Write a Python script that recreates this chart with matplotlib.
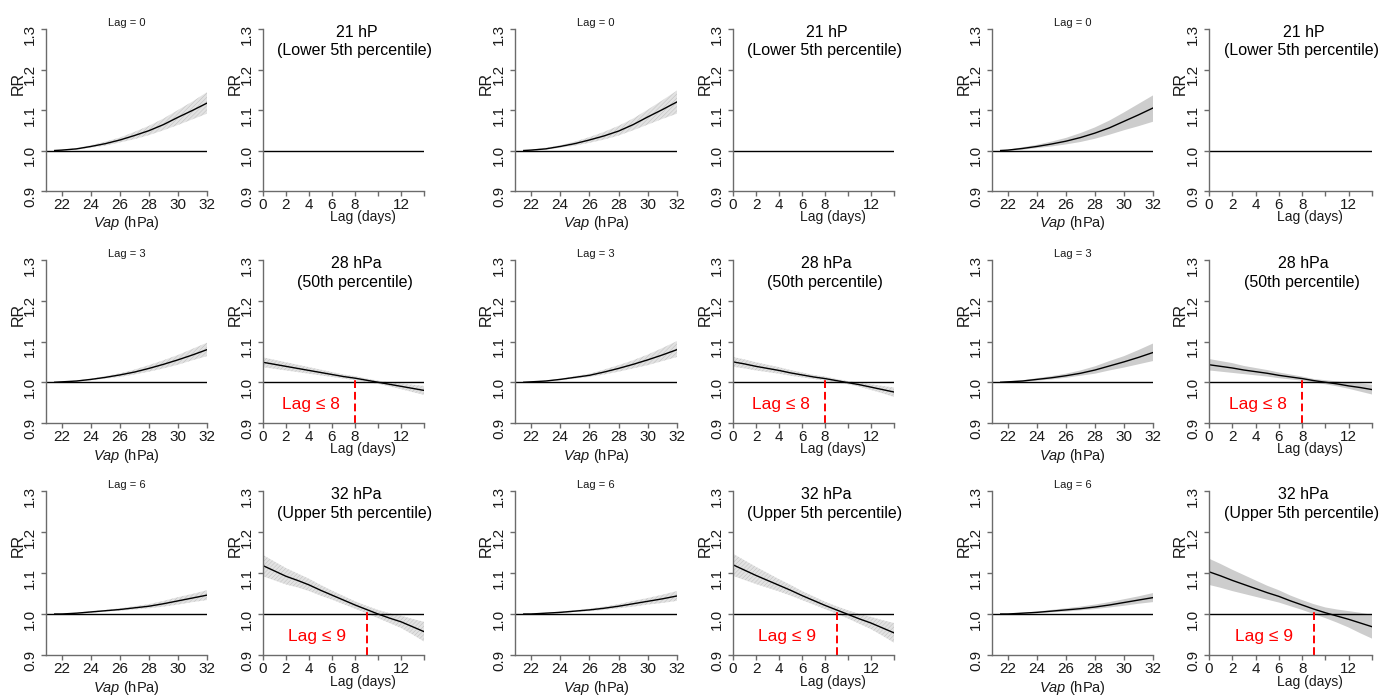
import numpy as np
import matplotlib
matplotlib.use('Agg')
import matplotlib.pyplot as plt

plt.rcParams['font.family'] = ['Liberation Sans', 'DejaVu Sans']
plt.rcParams['mathtext.fontset'] = 'custom'
plt.rcParams['mathtext.rm'] = 'Liberation Sans'
plt.rcParams['mathtext.it'] = 'Liberation Sans:italic'
plt.rcParams['hatch.linewidth'] = 0.3

# ---- data ----
vap = [21.5, 22, 23, 24, 25, 26, 27, 28, 29, 30, 31, 32]
lags = list(range(15))

lag_titles = ['Lag = 0', 'Lag = 3', 'Lag = 6']
pct_values = ['21 hP', '28 hPa', '32 hPa']
pct_names = ['(Lower 5th percentile)', '(50th percentile)', '(Upper 5th percentile)']
cutoffs = [None, 8, 9]
cutoff_labels = [None, 'Lag ≤ 8', 'Lag ≤ 9']

# group 1: exposure-response at lag 0 / 3 / 6
g1_vap_rr = [[1.000, 1.001, 1.004, 1.010, 1.017, 1.026, 1.037, 1.049, 1.064, 1.082, 1.099, 1.117],
             [1.000, 1.001, 1.003, 1.007, 1.012, 1.018, 1.025, 1.034, 1.044, 1.055, 1.067, 1.080],
             [1.000, 1.000, 1.002, 1.005, 1.008, 1.011, 1.015, 1.019, 1.025, 1.032, 1.039, 1.046]]
g1_vap_lo = [[1.000, 1.000, 1.002, 1.007, 1.012, 1.020, 1.028, 1.038, 1.050, 1.063, 1.077, 1.091],
             [1.000, 1.000, 1.002, 1.005, 1.009, 1.013, 1.019, 1.026, 1.034, 1.043, 1.054, 1.064],
             [1.000, 1.000, 1.001, 1.003, 1.006, 1.008, 1.011, 1.014, 1.018, 1.023, 1.029, 1.034]]
g1_vap_hi = [[1.000, 1.002, 1.006, 1.013, 1.022, 1.032, 1.046, 1.061, 1.079, 1.100, 1.121, 1.144],
             [1.000, 1.002, 1.004, 1.009, 1.015, 1.022, 1.031, 1.042, 1.054, 1.067, 1.082, 1.097],
             [1.000, 1.001, 1.003, 1.007, 1.010, 1.014, 1.019, 1.024, 1.032, 1.041, 1.049, 1.058]]

# group 2
g2_vap_rr = [[1.000, 1.001, 1.004, 1.010, 1.017, 1.026, 1.036, 1.048, 1.064, 1.083, 1.101, 1.120],
             [1.000, 1.001, 1.003, 1.007, 1.012, 1.017, 1.025, 1.034, 1.044, 1.055, 1.067, 1.080],
             [1.000, 1.000, 1.002, 1.004, 1.007, 1.010, 1.014, 1.019, 1.025, 1.031, 1.037, 1.044]]
g2_vap_lo = [[0.999, 0.999, 1.002, 1.007, 1.012, 1.019, 1.027, 1.037, 1.050, 1.064, 1.078, 1.091],
             [0.999, 1.000, 1.002, 1.005, 1.009, 1.013, 1.019, 1.026, 1.034, 1.042, 1.052, 1.062],
             [0.999, 1.000, 1.001, 1.002, 1.005, 1.007, 1.010, 1.014, 1.018, 1.023, 1.027, 1.032]]
g2_vap_hi = [[1.000, 1.002, 1.007, 1.013, 1.022, 1.033, 1.046, 1.061, 1.079, 1.101, 1.124, 1.148],
             [1.000, 1.002, 1.004, 1.009, 1.015, 1.021, 1.031, 1.042, 1.054, 1.068, 1.084, 1.101],
             [1.000, 1.001, 1.003, 1.006, 1.009, 1.013, 1.018, 1.024, 1.032, 1.039, 1.047, 1.056]]

# group 3
g3_vap_rr = [[1.000, 1.001, 1.005, 1.010, 1.016, 1.023, 1.032, 1.043, 1.056, 1.072, 1.088, 1.105],
             [1.000, 1.001, 1.003, 1.007, 1.011, 1.016, 1.022, 1.030, 1.040, 1.050, 1.061, 1.073],
             [1.000, 1.000, 1.002, 1.004, 1.007, 1.010, 1.013, 1.017, 1.022, 1.028, 1.034, 1.040]]
g3_vap_lo = [[0.999, 0.999, 1.002, 1.006, 1.010, 1.015, 1.021, 1.029, 1.039, 1.050, 1.060, 1.071],
             [0.999, 1.000, 1.001, 1.004, 1.007, 1.011, 1.016, 1.021, 1.029, 1.036, 1.044, 1.052],
             [0.999, 1.000, 1.001, 1.002, 1.004, 1.006, 1.009, 1.012, 1.016, 1.020, 1.025, 1.029]]
g3_vap_hi = [[1.000, 1.002, 1.008, 1.014, 1.022, 1.031, 1.043, 1.057, 1.074, 1.094, 1.115, 1.136],
             [1.000, 1.002, 1.005, 1.010, 1.015, 1.021, 1.029, 1.039, 1.052, 1.064, 1.079, 1.095],
             [1.000, 1.001, 1.003, 1.006, 1.010, 1.014, 1.018, 1.023, 1.029, 1.036, 1.043, 1.051]]

# lag-response at 28 hPa and 32 hPa (21 hPa is the reference, RR = 1)
g1_lag_rr = [[1.049, 1.044, 1.039, 1.034, 1.029, 1.024, 1.019, 1.014, 1.010, 1.005, 1.000, 0.995, 0.990, 0.985, 0.980],
             [1.118, 1.105, 1.092, 1.082, 1.071, 1.058, 1.046, 1.034, 1.022, 1.011, 1.000, 0.990, 0.981, 0.969, 0.957]]
g1_lag_lo = [[1.037, 1.033, 1.029, 1.025, 1.021, 1.017, 1.013, 1.009, 1.005, 1.001, 0.996, 0.990, 0.983, 0.976, 0.969],
             [1.092, 1.082, 1.072, 1.065, 1.056, 1.045, 1.035, 1.024, 1.013, 1.002, 0.990, 0.978, 0.966, 0.950, 0.933]]
g1_lag_hi = [[1.061, 1.055, 1.049, 1.043, 1.037, 1.031, 1.025, 1.019, 1.015, 1.009, 1.004, 1.000, 0.997, 0.994, 0.991],
             [1.144, 1.128, 1.112, 1.099, 1.086, 1.071, 1.057, 1.044, 1.031, 1.020, 1.010, 1.002, 0.996, 0.988, 0.981]]

g2_lag_rr = [[1.050, 1.045, 1.039, 1.034, 1.029, 1.023, 1.018, 1.013, 1.009, 1.004, 0.999, 0.994, 0.988, 0.982, 0.976],
             [1.120, 1.107, 1.094, 1.082, 1.070, 1.058, 1.045, 1.033, 1.021, 1.010, 0.999, 0.988, 0.978, 0.966, 0.954]]
g2_lag_lo = [[1.038, 1.034, 1.029, 1.025, 1.021, 1.016, 1.012, 1.008, 1.004, 1.000, 0.995, 0.989, 0.981, 0.973, 0.964],
             [1.093, 1.083, 1.073, 1.064, 1.055, 1.045, 1.034, 1.023, 1.012, 1.001, 0.989, 0.976, 0.963, 0.947, 0.930]]
g2_lag_hi = [[1.062, 1.056, 1.049, 1.043, 1.037, 1.030, 1.024, 1.018, 1.014, 1.008, 1.003, 0.999, 0.995, 0.991, 0.987],
             [1.147, 1.131, 1.115, 1.100, 1.085, 1.071, 1.056, 1.043, 1.030, 1.019, 1.009, 1.000, 0.993, 0.985, 0.978]]

g3_lag_rr = [[1.043, 1.039, 1.035, 1.030, 1.026, 1.022, 1.017, 1.013, 1.009, 1.004, 1.000, 0.996, 0.991, 0.987, 0.982],
             [1.103, 1.093, 1.082, 1.072, 1.062, 1.052, 1.043, 1.032, 1.022, 1.012, 1.003, 0.995, 0.987, 0.978, 0.969]]
g3_lag_lo = [[1.029, 1.026, 1.023, 1.020, 1.017, 1.014, 1.010, 1.007, 1.004, 1.000, 0.995, 0.990, 0.984, 0.977, 0.970],
             [1.071, 1.064, 1.056, 1.049, 1.042, 1.035, 1.028, 1.019, 1.010, 1.000, 0.990, 0.979, 0.967, 0.953, 0.940]]
g3_lag_hi = [[1.057, 1.052, 1.047, 1.040, 1.035, 1.030, 1.024, 1.019, 1.014, 1.008, 1.005, 1.002, 0.998, 0.997, 0.994],
             [1.135, 1.122, 1.108, 1.095, 1.082, 1.069, 1.058, 1.045, 1.034, 1.024, 1.016, 1.011, 1.007, 1.003, 0.998]]

groups = [
    (g1_vap_rr, g1_vap_lo, g1_vap_hi, g1_lag_rr, g1_lag_lo, g1_lag_hi),
    (g2_vap_rr, g2_vap_lo, g2_vap_hi, g2_lag_rr, g2_lag_lo, g2_lag_hi),
    (g3_vap_rr, g3_vap_lo, g3_vap_hi, g3_lag_rr, g3_lag_lo, g3_lag_hi),
]

# ---- layout (pixel positions of the panels) ----
W, H = 1382, 697
col_left = [46, 263, 515, 733, 992, 1209]
col_width = [161, 161, 162, 161, 161, 163]
row_top = [29, 260, 491]
row_bottom = [191, 423, 655]

axis_gray = '#6b6b6b'
text_dark = '#1a1a1a'


def style_axes(ax):
    for s in ['top', 'right']:
        ax.spines[s].set_visible(False)
    for s in ['left', 'bottom']:
        ax.spines[s].set_color(axis_gray)
        ax.spines[s].set_linewidth(1.0)
    ax.set_ylim(0.9, 1.3)
    ax.set_yticks([0.9, 1.0, 1.1, 1.2, 1.3])
    ax.set_yticklabels(['0.9', '1.0', '1.1', '1.2', '1.3'])
    ax.tick_params(axis='both', colors=axis_gray, labelcolor=text_dark,
                   labelsize=11, length=3.8, width=1.0)
    ax.tick_params(axis='y', labelrotation=90, pad=2.5)
    ax.tick_params(axis='x', pad=1)
    ax.text(-0.175, 0.665, 'RR', rotation=90, ha='center', va='center',
            fontsize=11.5, color=text_dark, transform=ax.transAxes)


def draw_band(ax, x, lo, hi, solid):
    # confidence band: solid grey for the third group, fine hatching otherwise
    if solid:
        ax.fill_between(x, lo, hi, facecolor='#cdcdcd', linewidth=0)
    else:
        ax.fill_between(x, lo, hi, facecolor='#e2e2e2', edgecolor='#b8b8b8',
                        hatch='////////', linewidth=0)


fig = plt.figure(figsize=(W / 100, H / 100), dpi=100)

for gi, (vrr, vlo, vhi, lrr, llo, lhi) in enumerate(groups):
    solid = gi == 2
    for ri in range(3):
        bottom = 1 - row_bottom[ri] / H
        height = (row_bottom[ri] - row_top[ri]) / H

        # --- exposure-response panel ---
        c = gi * 2
        ax = fig.add_axes([col_left[c] / W, bottom, col_width[c] / W, height])
        style_axes(ax)
        ax.set_xlim(20.9, 32)
        ax.set_xticks([22, 24, 26, 28, 30, 32])
        draw_band(ax, vap, vlo[ri], vhi[ri], solid)
        ax.axhline(1.0, color='black', lw=1.0)
        ax.plot(vap, vrr[ri], color='black', lw=1.0)
        ax.text(0.5, 1.035, lag_titles[ri], ha='center', va='center',
                fontsize=8, color=text_dark, transform=ax.transAxes)
        ax.text(0.5, -0.2, r'$\mathit{Vap}$ (hPa)', ha='center', va='center',
                fontsize=10.5, color=text_dark, transform=ax.transAxes)

        # --- lag-response panel ---
        c = gi * 2 + 1
        ax = fig.add_axes([col_left[c] / W, bottom, col_width[c] / W, height])
        style_axes(ax)
        ax.set_xlim(0, 14)
        ax.set_xticks([0, 2, 4, 6, 8, 10, 12, 14])
        ax.set_xticklabels(['0', '2', '4', '6', '8', '', '12', ''])
        ax.axhline(1.0, color='black', lw=1.0)
        if ri > 0:
            k = ri - 1
            draw_band(ax, lags, llo[k], lhi[k], solid)
            ax.plot(lags, lrr[k], color='black', lw=1.0)
            cut = cutoffs[ri]
            top = np.interp(cut, lags, lrr[k])
            ax.plot([cut, cut], [0.9, top], color='#ff0000', lw=1.4,
                    linestyle=(0, (4, 2)))
            ax.text(cut / 2 + 0.2, 0.945, cutoff_labels[ri], color='#ff0000',
                    ha='center', va='center', fontsize=12.5)
        ax.text(0.58, 0.98, pct_values[ri], ha='center', va='center',
                fontsize=11.5, color='black', transform=ax.transAxes)
        ax.text(0.57, 0.865, pct_names[ri], ha='center', va='center',
                fontsize=11.5, color='black', transform=ax.transAxes)
        ax.text(0.62, -0.162, 'Lag (days)', ha='center', va='center',
                fontsize=10, color=text_dark, transform=ax.transAxes)

fig.savefig('out.png', dpi=100)
